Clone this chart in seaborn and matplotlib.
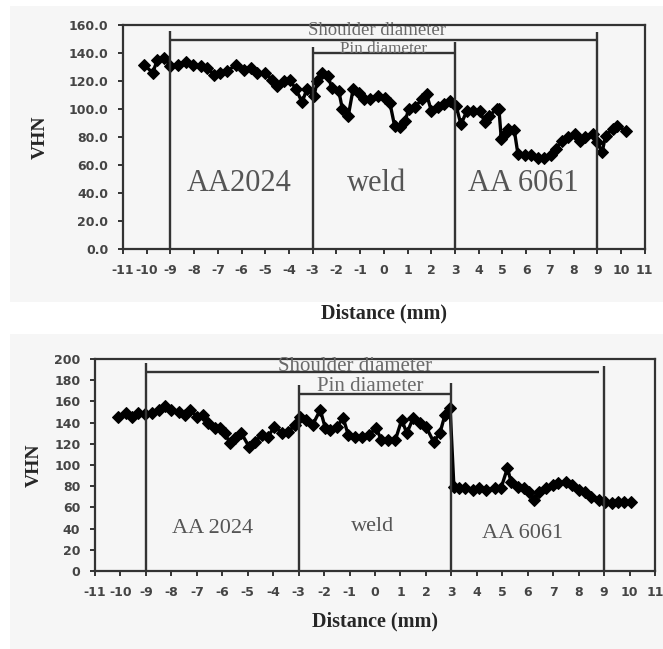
import matplotlib
matplotlib.use("Agg")
import matplotlib.pyplot as plt
from matplotlib.patches import Rectangle
import seaborn as sns

# top panel: AA2024 / AA6061 hardness profile
top_x = [-10.1, -9.75, -9.55, -9.25, -9.0, -8.7, -8.35, -8.05, -7.7, -7.45, -7.15, -6.9,
         -6.6, -6.25, -5.9, -5.6, -5.35, -5.0, -4.7, -4.5, -4.2, -3.95, -3.7, -3.45, -3.25,
         -2.95, -2.8, -2.6, -2.35, -2.2, -1.9, -1.75, -1.5, -1.3, -1.05, -0.85, -0.6, -0.25,
         0.05, 0.25, 0.45, 0.7, 0.9, 1.05, 1.3, 1.6, 1.8, 2.0, 2.3, 2.55, 2.8, 3.05, 3.25,
         3.5, 3.75, 4.05, 4.25, 4.45, 4.75, 4.85, 4.95, 5.1, 5.25, 5.5, 5.65, 5.95, 6.2, 6.5,
         6.75, 7.05, 7.25, 7.5, 7.75, 8.05, 8.25, 8.5, 8.8, 9.0, 9.2, 9.35, 9.65, 9.85, 10.2]
top_vhn = [131.7, 125.8, 135.2, 136.4, 130.5, 131.7, 134.0, 131.7, 130.5, 129.4, 124.6, 125.8,
           127.0, 131.7, 128.2, 129.4, 125.8, 125.8, 121.0, 116.4, 120.0, 120.5, 114.0, 105.0,
           114.0, 109.5, 120.0, 125.8, 123.4, 115.3, 112.9, 100.0, 95.3, 114.0, 111.8, 107.0,
           107.0, 109.4, 108.2, 104.7, 88.2, 87.1, 91.8, 100.0, 101.2, 107.0, 110.6, 98.8,
           101.2, 103.5, 105.8, 102.0, 89.0, 98.8, 98.8, 98.8, 90.6, 95.3, 100.0, 100.0, 78.9,
           82.4, 85.9, 84.7, 68.1, 66.9, 66.9, 65.3, 65.3, 66.9, 71.6, 77.5, 79.8, 82.2, 77.5,
           79.8, 82.2, 76.3, 69.2, 81.0, 85.7, 88.0, 84.5]

# bottom panel
bot_x = [-10.1, -9.8, -9.55, -9.3, -9.05, -8.75, -8.5, -8.25, -8.0, -7.7, -7.45, -7.25, -7.0,
         -6.75, -6.55, -6.3, -6.1, -5.9, -5.7, -5.5, -5.25, -4.95, -4.7, -4.45, -4.2, -3.95,
         -3.65, -3.4, -3.15, -2.95, -2.7, -2.45, -2.15, -1.95, -1.75, -1.5, -1.25, -1.05, -0.8,
         -0.5, -0.25, 0.05, 0.25, 0.5, 0.8, 1.05, 1.25, 1.5, 1.75, 2.0, 2.3, 2.55, 2.75, 2.95,
         3.1, 3.3, 3.55, 3.85, 4.1, 4.35, 4.7, 4.95, 5.2, 5.35, 5.6, 5.85, 6.05, 6.25, 6.45,
         6.7, 7.0, 7.2, 7.5, 7.75, 8.0, 8.25, 8.5, 8.8, 9.05, 9.3, 9.55, 9.8, 10.05]
bot_vhn = [145.7, 148.9, 145.7, 148.9, 148.2, 148.9, 152.0, 155.8, 152.0, 149.5, 147.3, 152.0,
           145.7, 147.3, 139.4, 134.7, 134.7, 130.0, 120.5, 125.3, 130.0, 117.3, 122.0, 128.4,
           126.8, 136.2, 130.0, 131.0, 138.0, 145.7, 142.6, 137.8, 152.0, 134.7, 133.1, 136.2,
           144.2, 128.4, 126.8, 126.8, 128.4, 134.7, 123.6, 123.6, 123.6, 142.6, 130.0, 144.2,
           139.4, 136.2, 122.0, 130.0, 147.3, 154.0, 79.5, 78.0, 78.0, 76.3, 78.0, 76.3, 78.0,
           78.0, 96.9, 84.2, 79.5, 78.0, 74.7, 66.9, 74.7, 78.0, 81.1, 82.7, 84.2, 81.1, 76.3,
           74.7, 70.0, 66.9, 65.3, 63.8, 65.3, 65.3, 65.3]

x_ticks = list(range(-11, 12))
zone_edges = [-9, -3, 3, 9]

sns.set_style("ticks")
plt.rcParams["font.family"] = ["DejaVu Sans"]
plt.rcParams["axes.unicode_minus"] = False

SERIF = "Liberation Serif"
BG = "#f6f6f6"
LINE = "#333333"
ANN = "#6a6a6a"

fig = plt.figure(figsize=(6.63, 6.49), dpi=100, facecolor="white")
# light grey backgrounds of the two source screenshots
fig.patches.append(Rectangle((0.015, 0.535), 0.985, 0.455, transform=fig.transFigure,
                             facecolor=BG, edgecolor="none", zorder=-10))
fig.patches.append(Rectangle((0.015, 0.0), 0.985, 0.485, transform=fig.transFigure,
                             facecolor=BG, edgecolor="none", zorder=-10))

ax1 = fig.add_axes([0.1855, 0.6163, 0.787, 0.345])
ax2 = fig.add_axes([0.1433, 0.1202, 0.8446, 0.3267])


def style_axes(ax, ymax, ystep, fmt, xpad, ypad):
    ax.set_facecolor(BG)
    ax.set_xlim(-11, 11)
    ax.set_ylim(0, ymax)
    ax.set_xticks(x_ticks)
    ax.set_yticks(range(0, ymax + 1, ystep))
    ax.set_yticklabels([fmt.format(v) for v in range(0, ymax + 1, ystep)])
    for s in ax.spines.values():
        s.set_visible(True)
        s.set_color(LINE)
        s.set_linewidth(1.6)
    ax.tick_params(axis="both", direction="out", length=3.5, width=1.4, color=LINE,
                   labelsize=9, labelcolor="#444444", pad=7)
    for lab in ax.get_xticklabels() + ax.get_yticklabels():
        lab.set_fontweight("bold")
    ax.set_xlabel("Distance (mm)", fontfamily=SERIF, fontweight="bold", fontsize=14.5,
                  labelpad=xpad)
    ax.set_ylabel("VHN", fontfamily=SERIF, fontweight="bold", fontsize=14, labelpad=ypad)


# ---- top ----
sns.lineplot(x=top_x, y=top_vhn, ax=ax1, color="black", marker="D", markersize=6.5,
             linewidth=2.4, markeredgecolor="black")
style_axes(ax1, 160, 20, "{:.1f}", xpad=19, ypad=14)
ax1.vlines(zone_edges, 0, [156, 144.6, 148, 155], color=LINE, linewidth=1.7)
ax1.hlines(149.3, -9, 9, color=LINE, linewidth=1.7)
ax1.hlines(140.4, -3, 3, color=LINE, linewidth=1.7)
ax1.text(-0.3, 153, "Shoulder diameter", ha="center", va="baseline", color=ANN,
         fontfamily=SERIF, fontsize=13.5, clip_on=False)
ax1.text(0, 139.8, "Pin diameter", ha="center", va="baseline", color=ANN,
         fontfamily=SERIF, fontsize=12.3)
ax1.text(-6.1, 47, "AA2024", ha="center", va="center", color="#555555",
         fontfamily=SERIF, fontsize=22)
ax1.text(-0.3, 47, "weld", ha="center", va="center", color="#555555",
         fontfamily=SERIF, fontsize=22)
ax1.text(5.9, 47, "AA 6061", ha="center", va="center", color="#555555",
         fontfamily=SERIF, fontsize=22)

# ---- bottom ----
sns.lineplot(x=bot_x, y=bot_vhn, ax=ax2, color="black", marker="D", markersize=6.5,
             linewidth=2.4, markeredgecolor="black")
style_axes(ax2, 200, 20, "{:d}", xpad=9, ypad=8)
ax2.vlines(zone_edges, 0, [196, 175.7, 177, 193.7], color=LINE, linewidth=1.7)
ax2.hlines(187.3, -9, 8.8, color=LINE, linewidth=1.7)
ax2.hlines(167, -3, 3, color=LINE, linewidth=1.7)
ax2.text(-0.8, 193, "Shoulder diameter", ha="center", va="center", color=ANN,
         fontfamily=SERIF, fontsize=15)
ax2.text(-0.2, 174, "Pin diameter", ha="center", va="center", color=ANN,
         fontfamily=SERIF, fontsize=15)
ax2.text(-6.4, 40, "AA 2024", ha="center", va="center", color="#555555",
         fontfamily=SERIF, fontsize=16)
ax2.text(-0.1, 41.5, "weld", ha="center", va="center", color="#555555",
         fontfamily=SERIF, fontsize=16)
ax2.text(5.8, 35.5, "AA 6061", ha="center", va="center", color="#555555",
         fontfamily=SERIF, fontsize=16)

fig.savefig("out.png", dpi=100, facecolor=fig.get_facecolor())
